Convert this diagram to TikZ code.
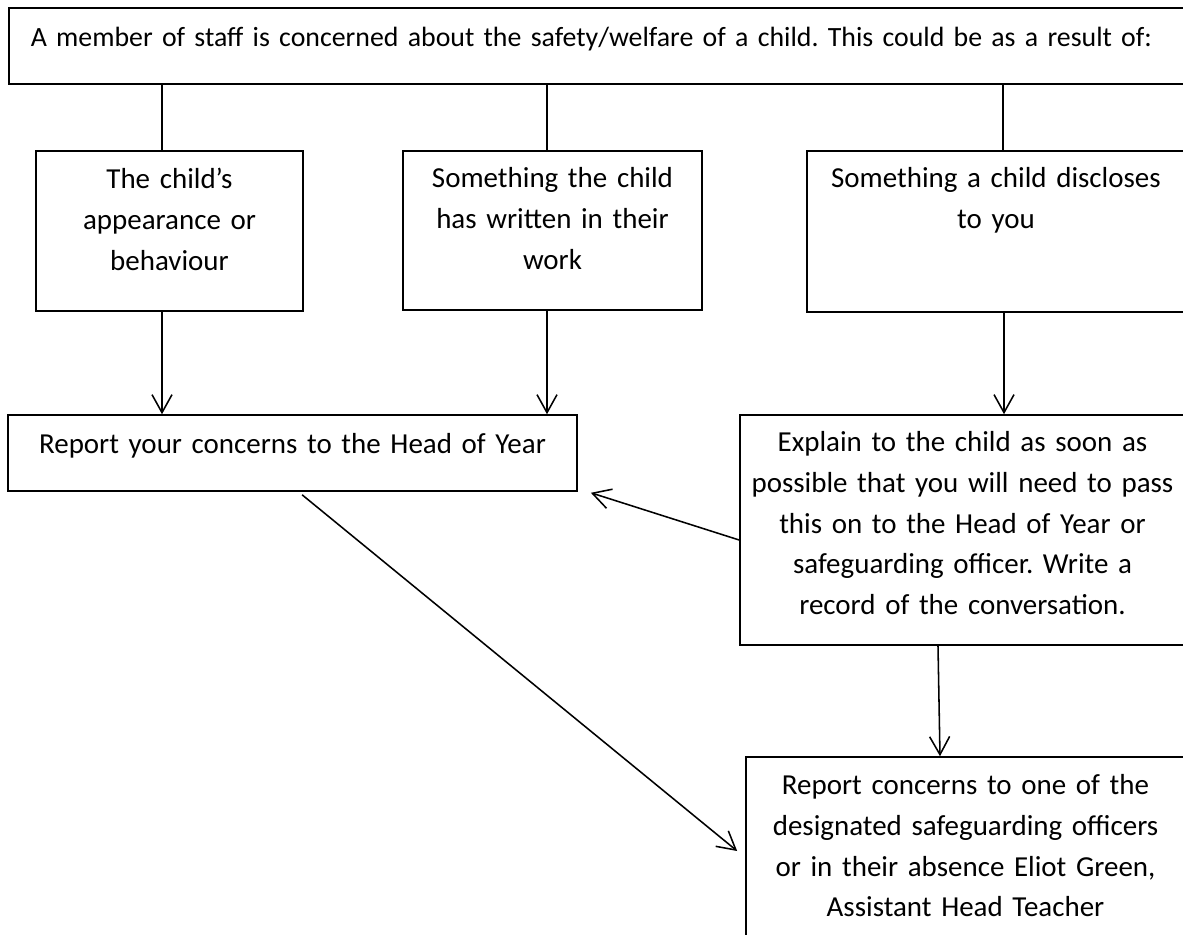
\documentclass[tikz,border=0pt]{standalone}
\usepackage{fontspec}
\setmainfont{Carlito}
\usepackage{pgf,tikz}
\usetikzlibrary{arrows.meta}
\frenchspacing

\begin{document}
\begin{tikzpicture}[x=0.025cm,y=-0.025cm,
		box/.style={draw,line width=1.1pt,inner sep=0pt,align=center,text height=0.95cm,font=\fontsize{20.6pt}{28.9pt}\selectfont},
		conn/.style={line width=1.1pt},
		arr/.style={line width=1.1pt,-{Straight Barb[length=0.45cm,width=0.5cm]}}]
		\useasboundingbox (0,0) rectangle (1183,934);
		\clip (0,0) rectangle (1183,934);

		\node[box,anchor=north west,align=left,inner xsep=0.55cm,text width=33cm,text height=0.975cm,text depth=0.925cm,font=\fontsize{19.8pt}{28.9pt}\selectfont] (top) at (8,7) {A member of staff is concerned about the safety/welfare of a child. This could be as a result of:};

		\node[box,text width=6.675cm,text depth=3.05cm] (appear) at (169.5,231) {The child’s\\appearance or\\behaviour};
		\node[box,text width=7.475cm,text depth=3.05cm,text height=0.925cm] (work) at (552.5,230.5) {Something the child\\has written in their\\work};
		\node[box,text width=9.45cm,text depth=3.1cm,text height=0.925cm] (disclose) at (996,231.5) {Something a child discloses\\to you};

		\node[box,text width=14.225cm,text depth=0.95cm] (hoy) at (292.5,453) {Report your concerns to the Head of Year};
		\node[box,text width=11.125cm,text depth=4.825cm,text height=0.925cm] (explain) at (962.5,530) {Explain to the child as soon as\\possible that you will need to pass\\this on to the Head of Year or\\safeguarding officer. Write a\\record of the conversation.};

		\node[box,text width=10.975cm,text depth=3.75cm] (report) at (965.5,851) {Report concerns to one of the\\designated safeguarding officers\\or in their absence Eliot Green,\\Assistant Head Teacher};

		\coordinate (c1) at ([xshift=-0.1875cm]appear.north);
		\coordinate (c2) at ([xshift=-0.1375cm]work.north);
		\coordinate (c3) at ([xshift=0.175cm]disclose.north);
		\draw[conn] (c1 |- top.south) -- (c1);
		\draw[conn] (c2 |- top.south) -- (c2);
		\draw[conn] (c3 |- top.south) -- (c3);

		\coordinate (d1) at ([xshift=-0.1875cm]appear.south);
		\coordinate (d2) at ([xshift=-0.1375cm]work.south);
		\coordinate (d3) at ([xshift=0.2cm]disclose.south);
		\draw[arr] (d1) -- (d1 |- hoy.north);
		\draw[arr] (d2) -- (d2 |- hoy.north);
		\draw[arr] (d3) -- (d3 |- explain.north);

		\draw[arr] ([yshift=-0.25cm]explain.west) -- ([xshift=0.325cm,yshift=-0.025cm]hoy.south east);
		\draw[arr] ([xshift=-0.6125cm]explain.south) -- ([xshift=-0.6375cm]report.north);
		\draw[arr] ([xshift=0.24cm,yshift=-0.075cm]hoy.south) -- ([xshift=-0.2cm]report.west);

	\end{tikzpicture}
\end{document}
